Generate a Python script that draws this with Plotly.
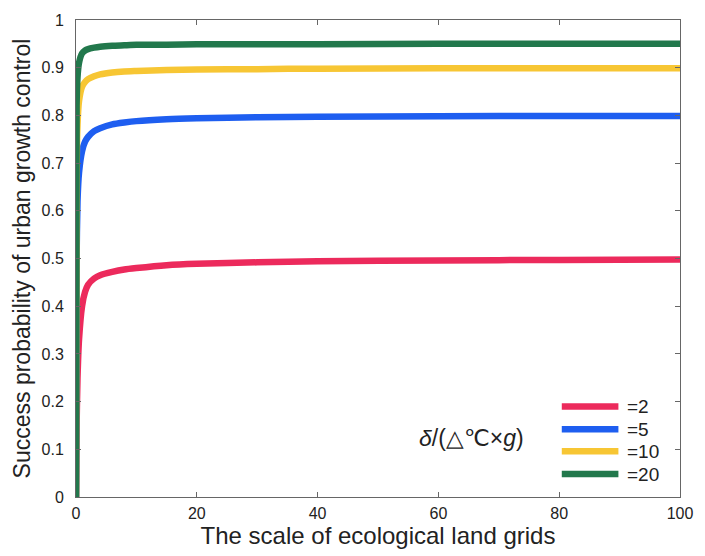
import plotly.graph_objects as go

# Scale of ecological land grids (x) and control success probability per delta
grid_scale = [0, 0.1, 0.25, 0.5, 1, 1.5, 2, 3, 4, 6, 8, 10, 15, 20, 30, 40, 60, 80, 100]

prob_d2 = [0, 0.15, 0.25, 0.33, 0.40, 0.43, 0.445, 0.458, 0.465, 0.472, 0.477, 0.480, 0.486, 0.489, 0.492, 0.494, 0.496, 0.497, 0.498]
prob_d5 = [0, 0.50, 0.62, 0.68, 0.725, 0.745, 0.755, 0.767, 0.773, 0.781, 0.785, 0.788, 0.792, 0.794, 0.796, 0.797, 0.798, 0.799, 0.799]
prob_d10 = [0, 0.68, 0.78, 0.83, 0.860, 0.870, 0.876, 0.882, 0.886, 0.890, 0.892, 0.893, 0.895, 0.896, 0.897, 0.898, 0.899, 0.899, 0.899]
prob_d20 = [0, 0.82, 0.88, 0.91, 0.930, 0.936, 0.939, 0.942, 0.944, 0.946, 0.947, 0.948, 0.948, 0.949, 0.949, 0.949, 0.950, 0.950, 0.950]

series_labels = ["=2", "=5", "=10", "=20"]
series_values = [prob_d2, prob_d5, prob_d10, prob_d20]
series_colors = ["#ec2a5c", "#1e5ef0", "#f7c634", "#22784c"]

x_ticks = [0, 20, 40, 60, 80, 100]
y_ticks = [0, 0.1, 0.2, 0.3, 0.4, 0.5, 0.6, 0.7, 0.8, 0.9, 1]

FONT = "Liberation Sans, Arial"

fig = go.Figure()
for name, ys, col in zip(series_labels, series_values, series_colors):
    fig.add_trace(go.Scatter(
        x=grid_scale, y=ys, mode="lines", name=name,
        line=dict(color=col, width=6.5, shape="spline", smoothing=0.6),
        showlegend=False,
    ))

# Hand-drawn legend in the lower right corner
legend_y = [406, 429, 451, 474]
W, H = 705, 556
ml, mr, mt, mb = 76, 21, 18, 59
pw, ph = W - ml - mr, H - mt - mb
for name, col, py in zip(series_labels, series_colors, legend_y):
    yp = 1 - (py - mt) / ph
    x0 = (565 - ml) / pw
    x1 = (622 - ml) / pw
    fig.add_shape(type="line", xref="paper", yref="paper",
                  x0=x0, x1=x1, y0=yp, y1=yp,
                  line=dict(color=col, width=6.5))
    fig.add_annotation(xref="paper", yref="paper", x=(629 - ml) / pw, y=yp,
                       text=name, showarrow=False, xanchor="left", yanchor="middle",
                       font=dict(size=19, color="#222", family=FONT))

fig.add_annotation(xref="paper", yref="paper", x=(529 - ml) / pw, y=1 - (438 - mt) / ph,
                   text="<i>δ</i>/(△℃×<i>g</i>)", showarrow=False,
                   xanchor="right", yanchor="middle",
                   font=dict(size=23, color="#222", family=FONT))

axis_common = dict(
    showline=True, linecolor="#666", linewidth=1, mirror="ticks",
    ticks="inside", ticklen=5, tickcolor="#666",
    showgrid=False, zeroline=False,
    tickfont=dict(size=16, color="#222", family=FONT),
)

fig.update_xaxes(range=[0, 100], tickvals=x_ticks, ticklabelstandoff=2,
                 title=dict(text="The scale of ecological land grids", standoff=2,
                            font=dict(size=24, color="#222", family=FONT)),
                 **axis_common)
fig.update_yaxes(range=[0, 1], tickvals=y_ticks, ticklabelstandoff=8,
                 title=dict(text="Success probability of urban growth control", standoff=4,
                            font=dict(size=23, color="#222", family=FONT)),
                 **axis_common)

fig.update_layout(
    width=W, height=H,
    margin=dict(l=ml, r=mr, t=mt, b=mb),
    plot_bgcolor="white", paper_bgcolor="white",
)

fig.write_html("out.html")
